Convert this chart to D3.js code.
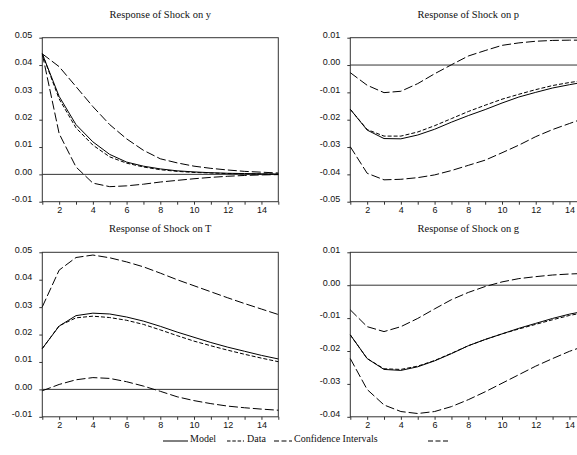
<!DOCTYPE html>
<html>
<head>
<meta charset="utf-8">
<script src="https://cdn.jsdelivr.net/npm/d3@7"></script>
<style>
  html, body { margin: 0; padding: 0; background: #fff; }
  svg { display: block; }
</style>
</head>
<body>
<svg id="chart" width="577" height="455"></svg>
<script>
// Impulse-response horizon
const periods = [1, 2, 3, 4, 5, 6, 7, 8, 9, 10, 11, 12, 13, 14, 15];

// Response of y
const yModel = [0.0441, 0.0285, 0.0182, 0.0119, 0.0073, 0.0045, 0.0030, 0.0020, 0.0013, 0.0009, 0.0006, 0.0004, 0.0003, 0.0002, 0.0001];
const yData  = [0.0441, 0.0276, 0.0170, 0.0107, 0.0064, 0.0041, 0.0027, 0.0017, 0.0011, 0.0007, 0.0005, 0.0003, 0.0002, 0.0001, 0.0001];
const yUpper = [0.0441, 0.0394, 0.0321, 0.0248, 0.0182, 0.0130, 0.0088, 0.0057, 0.0042, 0.0030, 0.0022, 0.0016, 0.0011, 0.0008, 0.0005];
const yLower = [0.0441, 0.0149, 0.0027, -0.0032, -0.0045, -0.0042, -0.0036, -0.0028, -0.0022, -0.0016, -0.0011, -0.0007, -0.0004, -0.0002, -0.0001];

// Response of p
const pModel = [-0.0162, -0.0238, -0.0269, -0.0270, -0.0256, -0.0235, -0.0209, -0.0185, -0.0163, -0.0139, -0.0117, -0.0100, -0.0084, -0.0072, -0.0061];
const pData  = [-0.0162, -0.0236, -0.0260, -0.0260, -0.0245, -0.0222, -0.0196, -0.0170, -0.0147, -0.0125, -0.0107, -0.0090, -0.0075, -0.0064, -0.0055];
const pUpper = [-0.0028, -0.0074, -0.0101, -0.0096, -0.0068, -0.0032, 0.0001, 0.0033, 0.0053, 0.0072, 0.0081, 0.0087, 0.0090, 0.0091, 0.0091];
const pLower = [-0.0299, -0.0396, -0.0420, -0.0418, -0.0412, -0.0402, -0.0386, -0.0367, -0.0348, -0.0321, -0.0293, -0.0262, -0.0236, -0.0214, -0.0192];

// Response of T
const tModel = [0.0149, 0.0231, 0.0269, 0.0278, 0.0275, 0.0264, 0.0249, 0.0230, 0.0209, 0.0190, 0.0171, 0.0154, 0.0139, 0.0124, 0.0111];
const tData  = [0.0149, 0.0232, 0.0261, 0.0267, 0.0262, 0.0252, 0.0237, 0.0217, 0.0196, 0.0176, 0.0159, 0.0143, 0.0128, 0.0114, 0.0101];
const tUpper = [0.0301, 0.0435, 0.0481, 0.0490, 0.0480, 0.0465, 0.0447, 0.0424, 0.0400, 0.0378, 0.0356, 0.0334, 0.0313, 0.0293, 0.0273];
const tLower = [-0.0005, 0.0018, 0.0035, 0.0043, 0.0040, 0.0028, 0.0012, -0.0007, -0.0027, -0.0041, -0.0052, -0.0061, -0.0067, -0.0072, -0.0076];

// Response of g
const gModel = [-0.0151, -0.0223, -0.0256, -0.0259, -0.0248, -0.0230, -0.0208, -0.0184, -0.0165, -0.0148, -0.0131, -0.0116, -0.0101, -0.0088, -0.0078];
const gData  = [-0.0151, -0.0223, -0.0254, -0.0256, -0.0246, -0.0229, -0.0207, -0.0184, -0.0165, -0.0148, -0.0133, -0.0119, -0.0105, -0.0092, -0.0082];
const gUpper = [-0.0075, -0.0126, -0.0141, -0.0126, -0.0101, -0.0072, -0.0044, -0.0022, -0.0004, 0.0010, 0.0020, 0.0026, 0.0031, 0.0034, 0.0036];
const gLower = [-0.0223, -0.0317, -0.0364, -0.0384, -0.0390, -0.0384, -0.0369, -0.0348, -0.0324, -0.0298, -0.0272, -0.0246, -0.0223, -0.0201, -0.0183];

// Axis tick values
const yTicksPos = [0.05, 0.04, 0.03, 0.02, 0.01, 0.00, -0.01];
const yTicksNeg = [0.01, 0.00, -0.01, -0.02, -0.03, -0.04, -0.05];
const yTicksG   = [0.01, 0.00, -0.01, -0.02, -0.03, -0.04];

const titles = ["Response of Shock on y", "Response of Shock on p", "Response of Shock on T", "Response of Shock on g"];
const legendLabels = ["Model", "Data", "Confidence Intervals"];

// Panel setup: series, y domain, ticks, placement
const panels = [
  { title: titles[0], model: yModel, data: yData, upper: yUpper, lower: yLower, domain: [-0.01, 0.05], ticks: yTicksPos, left: 42.3, top: 37.7, bottom: 201.7 },
  { title: titles[1], model: pModel, data: pData, upper: pUpper, lower: pLower, domain: [-0.05, 0.01], ticks: yTicksNeg, left: 350.3, top: 37.7, bottom: 201.7 },
  { title: titles[2], model: tModel, data: tData, upper: tUpper, lower: tLower, domain: [-0.01, 0.05], ticks: yTicksPos, left: 42.3, top: 252.3, bottom: 416.8 },
  { title: titles[3], model: gModel, data: gData, upper: gUpper, lower: gLower, domain: [-0.04, 0.01], ticks: yTicksG,   left: 350.3, top: 252.3, bottom: 416.8 }
];
const panelWidth = 236;

const svg = d3.select("#chart");
const sansFont = "'Liberation Sans', Arial, sans-serif";
const serifFont = "'Liberation Serif', 'Times New Roman', serif";
const frameColor = "#333";

panels.forEach(p => {
  const x = d3.scaleLinear().domain([1, 15]).range([p.left, p.left + panelWidth]);
  const y = d3.scaleLinear().domain(p.domain).range([p.bottom, p.top]);
  const g = svg.append("g");

  // Title
  g.append("text")
    .attr("x", p.left + panelWidth / 2)
    .attr("y", p.top - 20)
    .attr("text-anchor", "middle")
    .attr("font-family", serifFont)
    .attr("font-size", 10.5)
    .attr("fill", "#111")
    .text(p.title);

  // Left axis
  const yAxis = d3.axisLeft(y)
    .tickValues(p.ticks)
    .tickSize(3)
    .tickSizeOuter(0)
    .tickPadding(7)
    .tickFormat(d => d.toFixed(2));
  const ya = g.append("g").attr("transform", `translate(${p.left},0)`).call(yAxis);
  ya.select(".domain").remove();
  ya.selectAll(".tick line").attr("stroke", frameColor);
  ya.selectAll(".tick text")
    .attr("y", -3)
    .attr("font-family", sansFont)
    .attr("font-size", 9)
    .attr("fill", "#111");

  // Bottom axis
  const xAxis = d3.axisBottom(x)
    .tickValues(periods)
    .tickSize(3)
    .tickSizeOuter(0)
    .tickPadding(2)
    .tickFormat(d => d % 2 === 0 ? d : "");
  const xa = g.append("g").attr("transform", `translate(0,${p.bottom})`).call(xAxis);
  xa.select(".domain").remove();
  xa.selectAll(".tick line").attr("stroke", frameColor);
  xa.selectAll(".tick text")
    .attr("font-family", sansFont)
    .attr("font-size", 9)
    .attr("fill", "#111");

  // Frame
  g.append("rect")
    .attr("x", p.left)
    .attr("y", p.top)
    .attr("width", panelWidth)
    .attr("height", p.bottom - p.top)
    .attr("fill", "none")
    .attr("stroke", frameColor)
    .attr("stroke-width", 1);

  // Zero line
  g.append("line")
    .attr("x1", p.left).attr("x2", p.left + panelWidth)
    .attr("y1", y(0)).attr("y2", y(0))
    .attr("stroke", frameColor)
    .attr("stroke-width", 1);

  const line = d3.line()
    .x((d, i) => x(periods[i]))
    .y(d => y(d));

  const series = [
    { values: p.upper, dash: "9,3" },
    { values: p.lower, dash: "9,3" },
    { values: p.data,  dash: "4,2" },
    { values: p.model, dash: null }
  ];
  series.forEach(s => {
    g.append("path")
      .attr("d", line(s.values))
      .attr("fill", "none")
      .attr("stroke", "#000")
      .attr("stroke-width", 1)
      .attr("stroke-dasharray", s.dash);
  });
});

// Legend
const legendY = 441;
const legendItems = [
  { label: legendLabels[0], dash: null,      x1: 163, x2: 188, tx: 190 },
  { label: legendLabels[1], dash: "3.5,1.8", x1: 227, x2: 244, tx: 247 },
  { label: legendLabels[2], dash: "5,2.5",   x1: 274, x2: 292, tx: 294 },
  { label: "",              dash: "5,2.5",   x1: 428, x2: 448, tx: 450 }
];
const lg = svg.append("g");
legendItems.forEach(it => {
  lg.append("line")
    .attr("x1", it.x1).attr("x2", it.x2)
    .attr("y1", legendY).attr("y2", legendY)
    .attr("stroke", "#000")
    .attr("stroke-width", 1)
    .attr("stroke-dasharray", it.dash);
  if (it.label) {
    lg.append("text")
      .attr("x", it.tx)
      .attr("y", legendY + 0.5)
      .attr("font-family", serifFont)
      .attr("font-size", 10)
      .attr("fill", "#111")
      .text(it.label);
  }
});
</script>
</body>
</html>
